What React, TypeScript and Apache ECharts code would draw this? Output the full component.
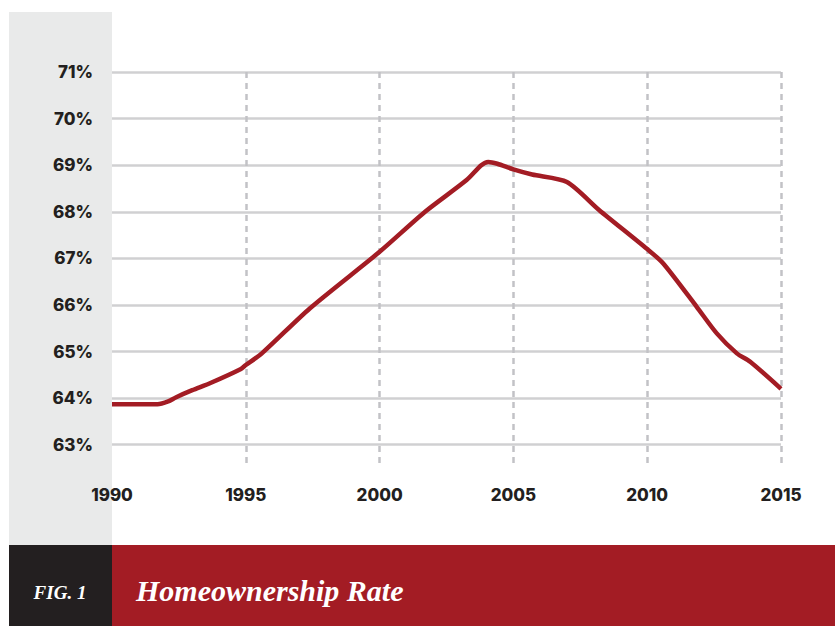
import React, { useEffect, useRef } from "react";
import * as echarts from "echarts";

const years = [
  1990, 1991, 1991.7, 1992.1, 1992.4, 1993, 1993.7, 1994.8, 1995, 1995.6,
  1997.4, 2000, 2001.7, 2003.25, 2003.8, 2004.06, 2004.4, 2005, 2005.7, 2007,
  2008.2, 2010, 2010.6, 2011.85, 2012.6, 2013.35, 2013.85, 2015,
];
const rates = [
  63.87, 63.87, 63.87, 63.93, 64.02, 64.17, 64.33, 64.62, 64.71, 64.96,
  65.93, 67.14, 68.0, 68.68, 69.0, 69.07, 69.03, 68.91, 68.8, 68.64,
  68.04, 67.2, 66.89, 65.96, 65.39, 64.96, 64.78, 64.2,
];
const xTicks = [1990, 1995, 2000, 2005, 2010, 2015];
const yTicks = [63, 64, 65, 66, 67, 68, 69, 70, 71];
const figLabel = "FIG. 1";
const title = "Homeownership Rate";

export default function App() {
  const ref = useRef<HTMLDivElement>(null);
  useEffect(() => {
    if (!ref.current) return;
    const chart = echarts.init(ref.current, null, { renderer: "svg" });
    const labelFont = { fontFamily: "Inter", fontWeight: 800, fontSize: 17, color: "#231f20" };
    chart.setOption({
      animation: false,
      backgroundColor: "#ffffff",
      grid: { left: 112, right: 54, top: 72, bottom: 158, containLabel: false },
      graphic: [
        { type: "rect", z: -10, silent: true, shape: { x: 9, y: 12, width: 103, height: 533 }, style: { fill: "#e9eaea" } },
        { type: "rect", z: 10, silent: true, shape: { x: 9, y: 545, width: 103, height: 81 }, style: { fill: "#231f20" } },
        { type: "rect", z: 10, silent: true, shape: { x: 112, y: 545, width: 723, height: 81 }, style: { fill: "#a31c24" } },
        {
          type: "text", z: 11, silent: true, x: 60, y: 592,
          style: {
            text: figLabel, fill: "#ffffff", align: "center", verticalAlign: "middle",
            font: "italic bold 19px 'Liberation Serif'",
          },
        },
        {
          type: "text", z: 11, silent: true, x: 136, y: 590,
          style: {
            text: title, fill: "#ffffff", align: "left", verticalAlign: "middle",
            font: "italic bold 30px 'Liberation Serif'",
          },
        },
      ],
      xAxis: {
        type: "value",
        min: xTicks[0],
        max: xTicks[xTicks.length - 1],
        interval: 5,
        axisLine: { show: false },
        axisTick: { show: false },
        axisLabel: { ...labelFont, margin: 18, formatter: (v: number) => String(v) },
        splitLine: {
          show: true,
          lineStyle: {
            color: ["rgba(0,0,0,0)", "#c2c2c6", "#c2c2c6", "#c2c2c6", "#c2c2c6", "#c2c2c6"],
            width: 2.5,
            type: [6, 5],
          },
        },
      },
      yAxis: {
        type: "value",
        min: 62.5,
        max: yTicks[yTicks.length - 1],
        interval: 0.5,
        axisLine: { show: false },
        axisTick: { show: false },
        axisLabel: {
          ...labelFont,
          margin: 19,
          formatter: (v: number) => (yTicks.includes(v) ? v + "%" : ""),
        },
        splitLine: {
          show: true,
          lineStyle: { color: ["rgba(0,0,0,0)", "#d0d0d2"], width: 2.5 },
        },
      },
      series: [
        {
          type: "line",
          data: years.map((y, i) => [y, rates[i]]),
          smooth: 0.25,
          showSymbol: false,
          lineStyle: { color: "#a31c24", width: 4.5 },
          z: 5,
        },
      ],
    });
    return () => chart.dispose();
  }, []);
  return <div ref={ref} style={{ position: "fixed", left: 0, top: 0, width: 835, height: 626 }} />;
}
